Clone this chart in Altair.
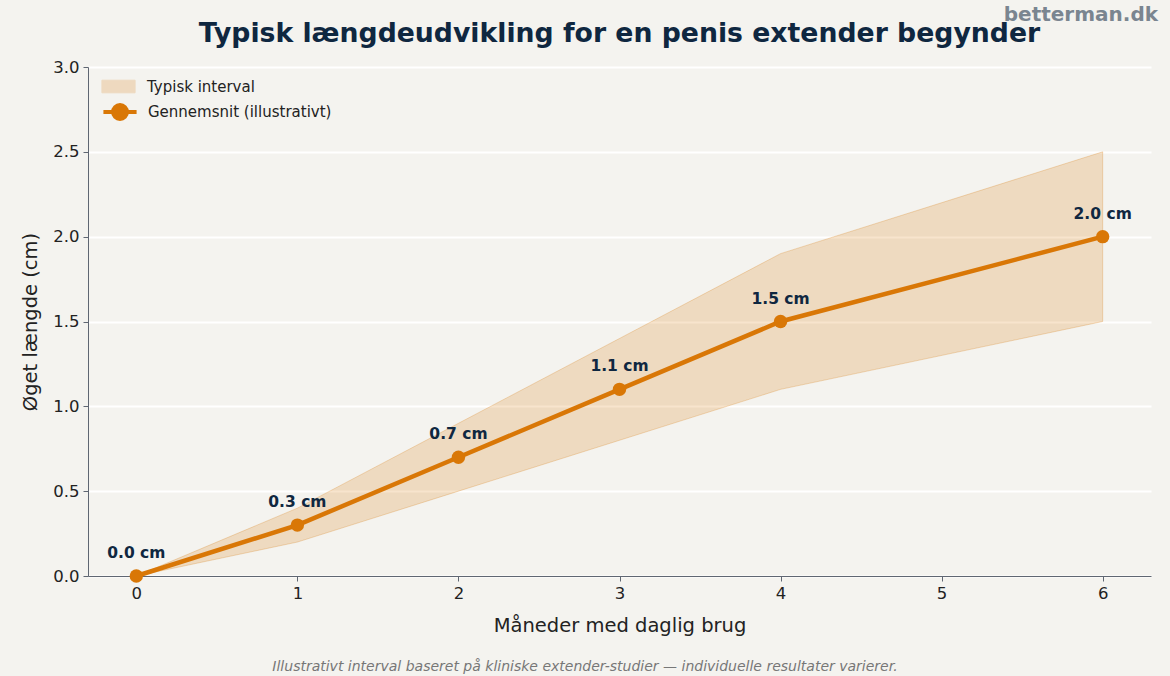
import altair as alt
import pandas as pd

months = [0, 1, 2, 3, 4, 6]
mean_cm = [0.0, 0.3, 0.7, 1.1, 1.5, 2.0]
low_cm = [0.0, 0.2, 0.5, 0.8, 1.1, 1.5]
high_cm = [0.0, 0.4, 0.9, 1.4, 1.9, 2.5]
labels = [f"{v:.1f} cm" for v in mean_cm]

df = pd.DataFrame({
    "month": months, "mean": mean_cm, "low": low_cm, "high": high_cm,
    "label": labels,
})
df["band"] = "Typisk interval"
df["line"] = "Gennemsnit (illustrativt)"

W, H = 1063, 509
ORANGE = "#d97706"
NAVY = "#0f2740"
BG = "#f4f3ef"
FONT = "DejaVu Sans"

xscale = alt.Scale(domain=[-0.3, 6.3], nice=False, zero=False)
yscale = alt.Scale(domain=[0, 3.0], nice=False)

x_enc = alt.X("month:Q", scale=xscale,
              axis=alt.Axis(title="Måneder med daglig brug", values=[0, 1, 2, 3, 4, 5, 6],
                            format="d", grid=False, titlePadding=15))
y_axis = alt.Axis(title="Øget længde (cm)", values=[0, 0.5, 1, 1.5, 2, 2.5, 3],
                  format=".1f", titlePadding=12)
y_enc = alt.Y("mean:Q", scale=yscale, axis=y_axis)

base = alt.Chart(df)

band = base.mark_area(opacity=0.2).encode(
    x=x_enc,
    y=alt.Y("low:Q", scale=yscale, axis=y_axis),
    y2="high:Q",
    fill=alt.Fill("band:N", scale=alt.Scale(domain=["Typisk interval"], range=[ORANGE]),
                  legend=alt.Legend(title=None, orient="none", legendX=13, legendY=2,
                                    symbolType="M-1,-0.38H1V0.38H-1Z", symbolSize=1100,
                                    symbolOpacity=0.2, symbolStrokeColor=ORANGE,
                                    symbolStrokeWidth=1,
                                    labelFontSize=15, labelColor="#222222", labelFont=FONT,
                                    labelOffset=11, labelLimit=400)),
)

edge_lo = base.mark_line(color=ORANGE, strokeWidth=1, opacity=0.25).encode(
    x=x_enc, y=alt.Y("low:Q", scale=yscale, axis=y_axis))
edge_hi = base.mark_line(color=ORANGE, strokeWidth=1, opacity=0.25).encode(
    x=x_enc, y=alt.Y("high:Q", scale=yscale, axis=y_axis))
edge_end = base.transform_filter(alt.datum.month == 6).mark_rule(
    color=ORANGE, strokeWidth=1, opacity=0.25).encode(
    x=x_enc, y=alt.Y("low:Q", scale=yscale, axis=y_axis), y2="high:Q")

line = base.mark_line(color=ORANGE, strokeWidth=4.5).encode(
    x=x_enc, y=y_enc,
    stroke=alt.Stroke("line:N", scale=alt.Scale(domain=["Gennemsnit (illustrativt)"], range=[ORANGE]),
                      legend=alt.Legend(title=None, orient="none", legendX=13, legendY=26,
                                        symbolType="M-1,0L1,0M0.42,0A0.42,0.42 0 1,1 -0.42,0A0.42,0.42 0 1,1 0.42,0Z",
                                        symbolSize=1100, symbolStrokeWidth=4, symbolFillColor=ORANGE,
                                        labelFontSize=15, labelColor="#222222", labelFont=FONT,
                                        labelOffset=9, labelLimit=400)),
)

pts = base.mark_circle(color=ORANGE, size=180, opacity=1).encode(x=x_enc, y=y_enc)

txt = base.mark_text(dy=-23, fontWeight="bold", fontSize=15.5, color=NAVY, font=FONT).encode(
    x=x_enc, y=y_enc, text="label:N")

title_txt = alt.Chart(pd.DataFrame({"t": ["Typisk længdeudvikling for en penis extender begynder"]})).mark_text(
    align="center", baseline="alphabetic", fontSize=26.7, fontWeight="bold", color=NAVY,
    font=FONT).encode(x=alt.value(W / 2), y=alt.value(-25), text="t:N")

watermark = alt.Chart(pd.DataFrame({"t": ["betterman.dk"]})).mark_text(
    align="right", baseline="middle", fontSize=20, fontWeight="bold", color="#7a8590",
    font=FONT).encode(x=alt.value(W + 7), y=alt.value(-52), text="t:N")

footnote = alt.Chart(pd.DataFrame({"t": ["Illustrativt interval baseret på kliniske extender-studier — individuelle resultater varierer."]})).mark_text(
    align="center", baseline="middle", fontSize=14, fontStyle="italic", color="#777777",
    font=FONT).encode(x=alt.value(585 - 88), y=alt.value(91 + H), text="t:N")

chart = alt.layer(band, edge_lo, edge_hi, edge_end, line, pts, txt, title_txt, watermark, footnote).resolve_scale(
    fill="independent", stroke="independent"
).properties(
    width=W, height=H,
    padding={"left": 88, "top": 67, "right": 19, "bottom": 100},
    autosize=alt.AutoSizeParams(type="none"),
    background=BG,
).configure_view(stroke=None, fill=BG).configure_axis(
    domainColor="#5f6672", tickColor="#5f6672", domainWidth=1, tickSize=5,
    labelFontSize=16.5, labelColor="#222222", labelFont=FONT,
    titleFontSize=19.5, titleFontWeight="normal", titleColor="#222222", titleFont=FONT,
    gridColor="#ffffff", gridWidth=2, labelPadding=4,
).configure_axisX(grid=False).configure_legend(padding=0)

chart.save("out.html", embed_options={"renderer": "svg", "actions": False})
